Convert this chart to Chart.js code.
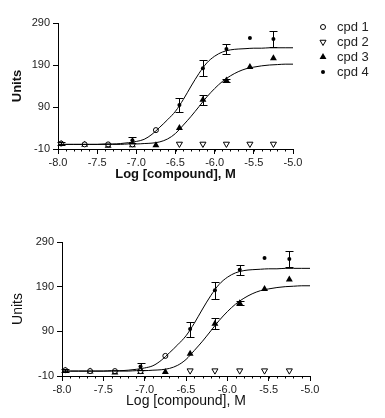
<!DOCTYPE html>
<html>
<head>
<meta charset="utf-8">
<script src="https://cdn.jsdelivr.net/npm/chart.js@4/dist/chart.umd.min.js"></script>
<style>
  body { margin: 0; background: #fff; }
  canvas { position: absolute; left: 0; }
  #chartTop { top: 0; }
  #chartBottom { top: 200px; }
</style>
</head>
<body>
<canvas id="chartTop" width="385" height="200"></canvas>
<canvas id="chartBottom" width="385" height="218"></canvas>
<script>
// log concentrations (2-fold dilutions)
const logConc = [-7.96, -7.66, -7.36, -7.05, -6.75, -6.45, -6.15, -5.85, -5.55, -5.25];

// measured responses (Units)
const cpd1 = [3, 1, 1, 1, 35, null, null, null, null, null];
const cpd2 = [null, null, null, null, null, 2, 2, 2, 2, 2];
const cpd3 = [2, 0, -2, -1, -1, 40, 107, 153, 185, 206];
const cpd4 = [3, 1, 1, 11, 34, 95, 182, 228, 254, 252];
const err3 = [0, 0, 0, 0, 0, 0, 12, 4, 0, 0];
const err4 = [3, 0, 0, 7, 0, 17, 19, 11, 0, 18];

// fitted curves
const fitX = [-8.0, -7.9, -7.8, -7.7, -7.6, -7.5, -7.4, -7.3, -7.2, -7.1, -7.0,
              -6.9, -6.8, -6.7, -6.6, -6.5, -6.4, -6.3, -6.2, -6.1, -6.0,
              -5.9, -5.8, -5.7, -5.6, -5.5, -5.4, -5.3, -5.2, -5.1, -5.0];
const fitUpper = [1, 1, 1, 1, 1, 1, 2, 2, 3, 5, 8,
                  13, 25, 42, 60, 80, 108, 140, 170, 195, 211,
                  221, 226, 228, 229, 230, 230, 231, 231, 231, 231];
const fitLower = [1, 1, 1, 1, 1, 1, 1, 1, 1, 2, 2,
                  3, 4, 7, 14, 27, 47, 68, 91, 114, 134,
                  151, 164, 174, 181, 185, 188, 190, 191, 192, 192];

const xTicks = [-8.0, -7.5, -7.0, -6.5, -6.0, -5.5, -5.0];
const yTicks = [-10, 90, 190, 290];

const pts = (ys) => logConc.map((x, i) => ({ x: x, y: ys[i] }));
const curve = (ys) => fitX.map((x, i) => ({ x: x, y: ys[i] }));

function buildDatasets() {
    return [
        { label: "fit 4", data: curve(fitUpper), showLine: true, borderColor: "#000",
          borderWidth: 1, pointRadius: 0, tension: 0.4, cubicInterpolationMode: "monotone" },
        { label: "fit 3", data: curve(fitLower), showLine: true, borderColor: "#000",
          borderWidth: 1, pointRadius: 0, tension: 0.4, cubicInterpolationMode: "monotone" },
        { label: "cpd 1", data: pts(cpd1), inLegend: true, pointStyle: "circle", pointRadius: 2.5,
          backgroundColor: "#fff", borderColor: "#000", borderWidth: 1 },
        { label: "cpd 2", data: pts(cpd2), inLegend: true, pointStyle: "triangle", rotation: 180,
          pointRadius: 3.5, backgroundColor: "#fff", borderColor: "#000", borderWidth: 1 },
        { label: "cpd 3", data: pts(cpd3), errors: err3, inLegend: true, pointStyle: "triangle",
          pointRadius: 4, backgroundColor: "#000", borderColor: "#000", borderWidth: 0 },
        { label: "cpd 4", data: pts(cpd4), errors: err4, inLegend: true, pointStyle: "circle",
          pointRadius: 2, backgroundColor: "#000", borderColor: "#000", borderWidth: 0 },
    ];
}

const errorBars = {
    id: "errorBars",
    afterDatasetsDraw(chart) {
        const { ctx, scales: { x, y } } = chart;
        ctx.save();
        ctx.strokeStyle = "#000";
        ctx.lineWidth = 1;
        ctx.beginPath();
        chart.data.datasets.forEach((ds) => {
            if (!ds.errors) return;
            ds.data.forEach((p, i) => {
                const e = ds.errors[i];
                if (!e || p.y == null) return;
                const px = Math.round(x.getPixelForValue(p.x)) + 0.5;
                const y1 = Math.round(y.getPixelForValue(p.y + e)) + 0.5;
                const y2 = Math.round(y.getPixelForValue(p.y - e)) + 0.5;
                ctx.moveTo(px, y1); ctx.lineTo(px, y2);
                ctx.moveTo(px - 4, y1); ctx.lineTo(px + 4, y1);
                ctx.moveTo(px - 4, y2); ctx.lineTo(px + 4, y2);
            });
        });
        ctx.stroke();
        ctx.restore();
    },
};

// small minor ticks every 0.1 on the x axis
const minorTicks = {
    id: "minorTicks",
    afterDraw(chart) {
        const { ctx, scales: { x } } = chart;
        const yb = chart.chartArea.bottom;
        ctx.save();
        ctx.strokeStyle = "#000";
        ctx.lineWidth = 1;
        ctx.beginPath();
        for (let i = 0; i <= 30; i++) {
            const px = Math.round(x.getPixelForValue(x.min + i * 0.1)) + 0.5;
            ctx.moveTo(px, yb);
            ctx.lineTo(px, yb + 2.5);
        }
        ctx.stroke();
        ctx.restore();
    },
};

// legend at the right of the top chart
const sideLegend = {
    id: "sideLegend",
    afterDraw(chart, args, opts) {
        if (!opts.show) return;
        const { ctx } = chart;
        ctx.save();
        ctx.font = "13px 'Liberation Sans', Arial, sans-serif";
        ctx.textBaseline = "middle";
        chart.data.datasets.filter((d) => d.inLegend).forEach((ds, i) => {
            const yy = opts.top + i * opts.step;
            ctx.fillStyle = ds.backgroundColor;
            ctx.strokeStyle = ds.borderColor;
            ctx.lineWidth = ds.borderWidth;
            Chart.helpers.drawPoint(ctx, {
                pointStyle: ds.pointStyle,
                radius: ds.pointRadius,
                rotation: ds.rotation || 0,
                borderWidth: ds.borderWidth,
            }, opts.markX, yy);
            ctx.fillStyle = "#222";
            ctx.fillText(ds.label, opts.textX, yy);
        });
        ctx.restore();
    },
};

function makeChart(id, cfg) {
    return new Chart(document.getElementById(id), {
        type: "scatter",
        data: { datasets: buildDatasets() },
        plugins: [errorBars, minorTicks, sideLegend],
        options: {
            responsive: false,
            animation: false,
            events: [],
            layout: { padding: cfg.padding },
            plugins: {
                legend: { display: false },
                tooltip: { enabled: false },
                sideLegend: cfg.legend,
            },
            scales: {
                x: {
                    type: "linear",
                    min: -8,
                    max: -5,
                    afterFit: (s) => { s.height = cfg.xHeight; },
                    afterBuildTicks: (s) => { s.ticks = xTicks.map((v) => ({ value: v })); },
                    ticks: {
                        color: "#222",
                        padding: 2,
                        maxRotation: 0,
                        font: { family: "'Liberation Sans', Arial", size: 11 },
                        callback: (v) => v.toFixed(1),
                    },
                    grid: { drawOnChartArea: false, tickLength: 5, color: "#000" },
                    border: { color: "#000", width: 1 },
                    title: {
                        display: true,
                        text: "Log [compound], M",
                        color: "#111",
                        padding: { top: 0, bottom: cfg.xTitlePad },
                        font: cfg.titleFont,
                    },
                },
                y: {
                    type: "linear",
                    min: -10,
                    max: 290,
                    afterFit: (s) => { s.width = cfg.yWidth; },
                    afterBuildTicks: (s) => { s.ticks = yTicks.map((v) => ({ value: v })); },
                    ticks: {
                        color: "#222",
                        padding: 3,
                        font: { family: "'Liberation Sans', Arial", size: 11 },
                    },
                    grid: { drawOnChartArea: false, tickLength: 5, color: "#000" },
                    border: { color: "#000", width: 1 },
                    title: {
                        display: true,
                        text: "Units",
                        color: "#111",
                        padding: { top: 10, bottom: 0 },
                        font: cfg.titleFont,
                    },
                },
            },
        },
    });
}

// top panel: bold titles, legend on the right
makeChart("chartTop", {
    padding: { left: 0, top: 23, right: 92, bottom: 0 },
    yWidth: 58,
    xHeight: 51,
    xTitlePad: 18,
    titleFont: { family: "'Liberation Sans', Arial", size: 13, weight: "bold" },
    legend: { show: true, top: 27, step: 15, markX: 323, textX: 337 },
});

// bottom panel: plain titles, no legend
makeChart("chartBottom", {
    padding: { left: 0, top: 42, right: 75, bottom: 0 },
    yWidth: 62,
    xHeight: 42,
    xTitlePad: 8,
    titleFont: { family: "'Liberation Sans', Arial", size: 14, weight: "normal" },
    legend: { show: false },
});
</script>
</body>
</html>
